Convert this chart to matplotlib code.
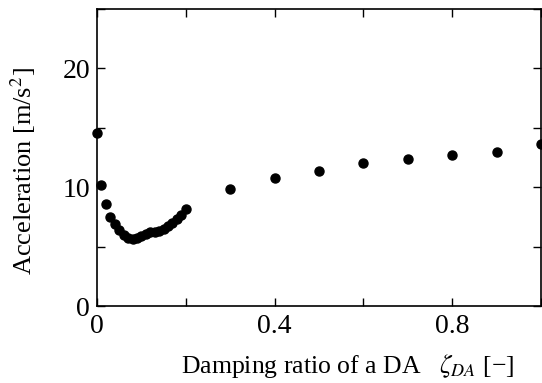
import matplotlib
matplotlib.use('Agg')
import matplotlib.pyplot as plt

# Damping ratio of the DA and the resulting acceleration
zeta = [0.0, 0.01, 0.02, 0.03, 0.04, 0.05, 0.06, 0.07, 0.08, 0.09, 0.10,
        0.11, 0.12, 0.13, 0.14, 0.15, 0.16, 0.17, 0.18, 0.19, 0.20,
        0.3, 0.4, 0.5, 0.6, 0.7, 0.8, 0.9, 1.0]
accel = [14.6, 10.2, 8.6, 7.5, 6.9, 6.4, 6.0, 5.75, 5.65, 5.7, 5.9,
         6.1, 6.2, 6.25, 6.35, 6.5, 6.7, 6.95, 7.3, 7.7, 8.2,
         9.85, 10.8, 11.4, 12.05, 12.35, 12.7, 12.95, 13.6]

xticks = [0, 0.2, 0.4, 0.6, 0.8, 1.0]
xticklabels = ['0', '', '0.4', '', '0.8', '']
yticks = [0, 5, 10, 15, 20, 25]
yticklabels = ['0', '', '10', '', '20', '']

plt.rcParams['font.family'] = ['Liberation Serif', 'DejaVu Serif']
plt.rcParams['mathtext.fontset'] = 'stix'

fig = plt.figure(figsize=(5.42, 3.83), dpi=100)
ax = fig.add_axes([0.179, 0.201, 0.819, 0.7755])

ax.plot(zeta, accel, 'o', color='black', markersize=6.5, clip_on=False)

ax.set_xlim(0, 1.0)
ax.set_ylim(0, 25)
ax.set_xticks(xticks)
ax.set_xticklabels(xticklabels)
ax.set_yticks(yticks)
ax.set_yticklabels(yticklabels)
ax.tick_params(direction='in', length=6, width=1, top=True, right=True,
               labelsize=20)
ax.tick_params(axis='x', pad=6)
ax.tick_params(axis='y', pad=5)
for s in ax.spines.values():
    s.set_linewidth(1.2)

ax.set_xlabel('Damping ratio of a DA   $\\zeta_{DA}$ [\u2212]', fontsize=18.5)
ax.set_ylabel('Acceleration [m/s$^2$]', fontsize=19)
ax.xaxis.set_label_coords(0.564, -0.155)
ax.yaxis.set_label_coords(-0.133, 0.455)

fig.savefig('out.png', dpi=100)
